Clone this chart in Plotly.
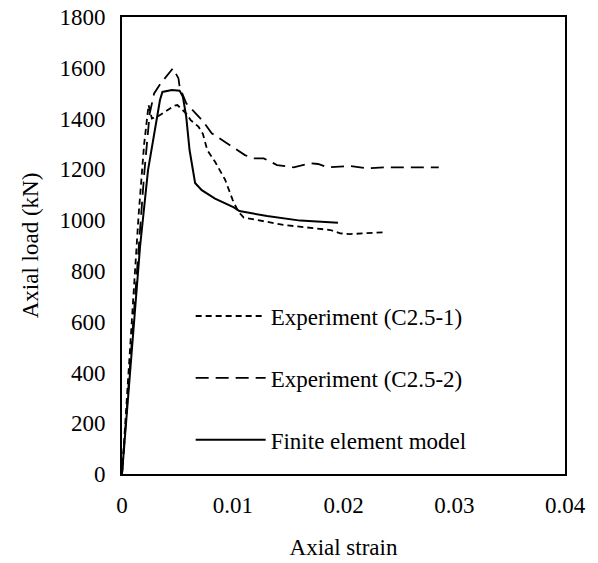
import plotly.graph_objects as go

# Experiment (C2.5-1)
exp1_strain = [0, 0.0005, 0.001, 0.0015, 0.002, 0.0024, 0.0027, 0.0033, 0.0040, 0.0047, 0.0050,
               0.0058, 0.0062, 0.0069, 0.0073, 0.0077, 0.0084, 0.0093, 0.0100, 0.0105, 0.0110,
               0.0146, 0.0188, 0.0197, 0.0206, 0.0236]
exp1_load = [0, 320, 680, 1020, 1300, 1453, 1400, 1410, 1430, 1450, 1453,
             1420, 1394, 1368, 1340, 1276, 1230, 1160, 1079, 1033, 1010,
             981, 961, 948, 945, 952]

# Experiment (C2.5-2)
exp2_strain = [0, 0.0005, 0.001, 0.0015, 0.002, 0.0025, 0.0029, 0.0035, 0.0042, 0.0046,
               0.0051, 0.0052, 0.0058, 0.0073, 0.0081, 0.0099, 0.0111, 0.0119, 0.0128,
               0.0140, 0.0155, 0.0170, 0.0177, 0.0186, 0.0206, 0.0221, 0.0239, 0.0286]
exp2_load = [0, 300, 620, 900, 1180, 1420, 1499, 1539, 1578, 1598,
             1558, 1525, 1460, 1390, 1342, 1289, 1256, 1243, 1243,
             1217, 1208, 1224, 1221, 1208, 1213, 1204, 1208, 1208]

# Finite element model
fe_strain = [0, 0.00115, 0.00163, 0.00235, 0.00313, 0.00343, 0.00365, 0.0045, 0.0052,
             0.0055, 0.0058, 0.0061, 0.0066, 0.0072, 0.0084, 0.0095, 0.0101, 0.0106,
             0.0131, 0.0161, 0.0195]
fe_load = [0, 646, 895, 1197, 1407, 1473, 1505, 1512, 1510,
           1486, 1407, 1276, 1146, 1118, 1085, 1062, 1050, 1036,
           1016, 998, 990]

x_ticks = [0, 0.01, 0.02, 0.03, 0.04]
x_labels = ["0", "0.01", "0.02", "0.03", "0.04"]
y_ticks = [0, 200, 400, 600, 800, 1000, 1200, 1400, 1600, 1800]

FONT = "Times New Roman, Liberation Serif, serif"
F = dict(family=FONT, size=23, color="black")

fig = go.Figure()
fig.add_trace(go.Scatter(x=exp1_strain, y=exp1_load, mode="lines",
                         name="Experiment (C2.5-1)", legendgroup="a",
                         line=dict(color="black", width=1.8, dash="6px,4px")))
fig.add_trace(go.Scatter(x=exp2_strain, y=exp2_load, mode="lines",
                         name="Experiment (C2.5-2)", legendgroup="b",
                         line=dict(color="black", width=1.8, dash="13px,7px")))
fig.add_trace(go.Scatter(x=fe_strain, y=fe_load, mode="lines",
                         name="Finite element model", legendgroup="c",
                         line=dict(color="black", width=2)))

fig.update_layout(
    width=598, height=563,
    margin=dict(l=122, r=33, t=17, b=89),
    paper_bgcolor="white", plot_bgcolor="white",
    font=F,
    showlegend=True,
    legend=dict(x=0.155, y=0.21, xanchor="left", yanchor="middle",
                bgcolor="rgba(0,0,0,0)", itemwidth=70,
                tracegroupgap=29, traceorder="grouped", font=F),
    xaxis=dict(range=[0, 0.04], tickvals=x_ticks, ticktext=x_labels, tickfont=F,
               showgrid=False, zeroline=False, showline=True, linecolor="black",
               linewidth=2, mirror=True, ticks="", ticklabelstandoff=9,
               title=dict(text="Axial strain", standoff=22, font=F),
               automargin=False),
    yaxis=dict(range=[0, 1800], tickvals=y_ticks, tickfont=F,
               showgrid=False, zeroline=False, showline=True, linecolor="black",
               linewidth=2, mirror=True, ticks="", ticklabelstandoff=10,
               title=dict(text="Axial load (kN)", standoff=14, font=F),
               automargin=False),
)

fig.write_html("out.html")
